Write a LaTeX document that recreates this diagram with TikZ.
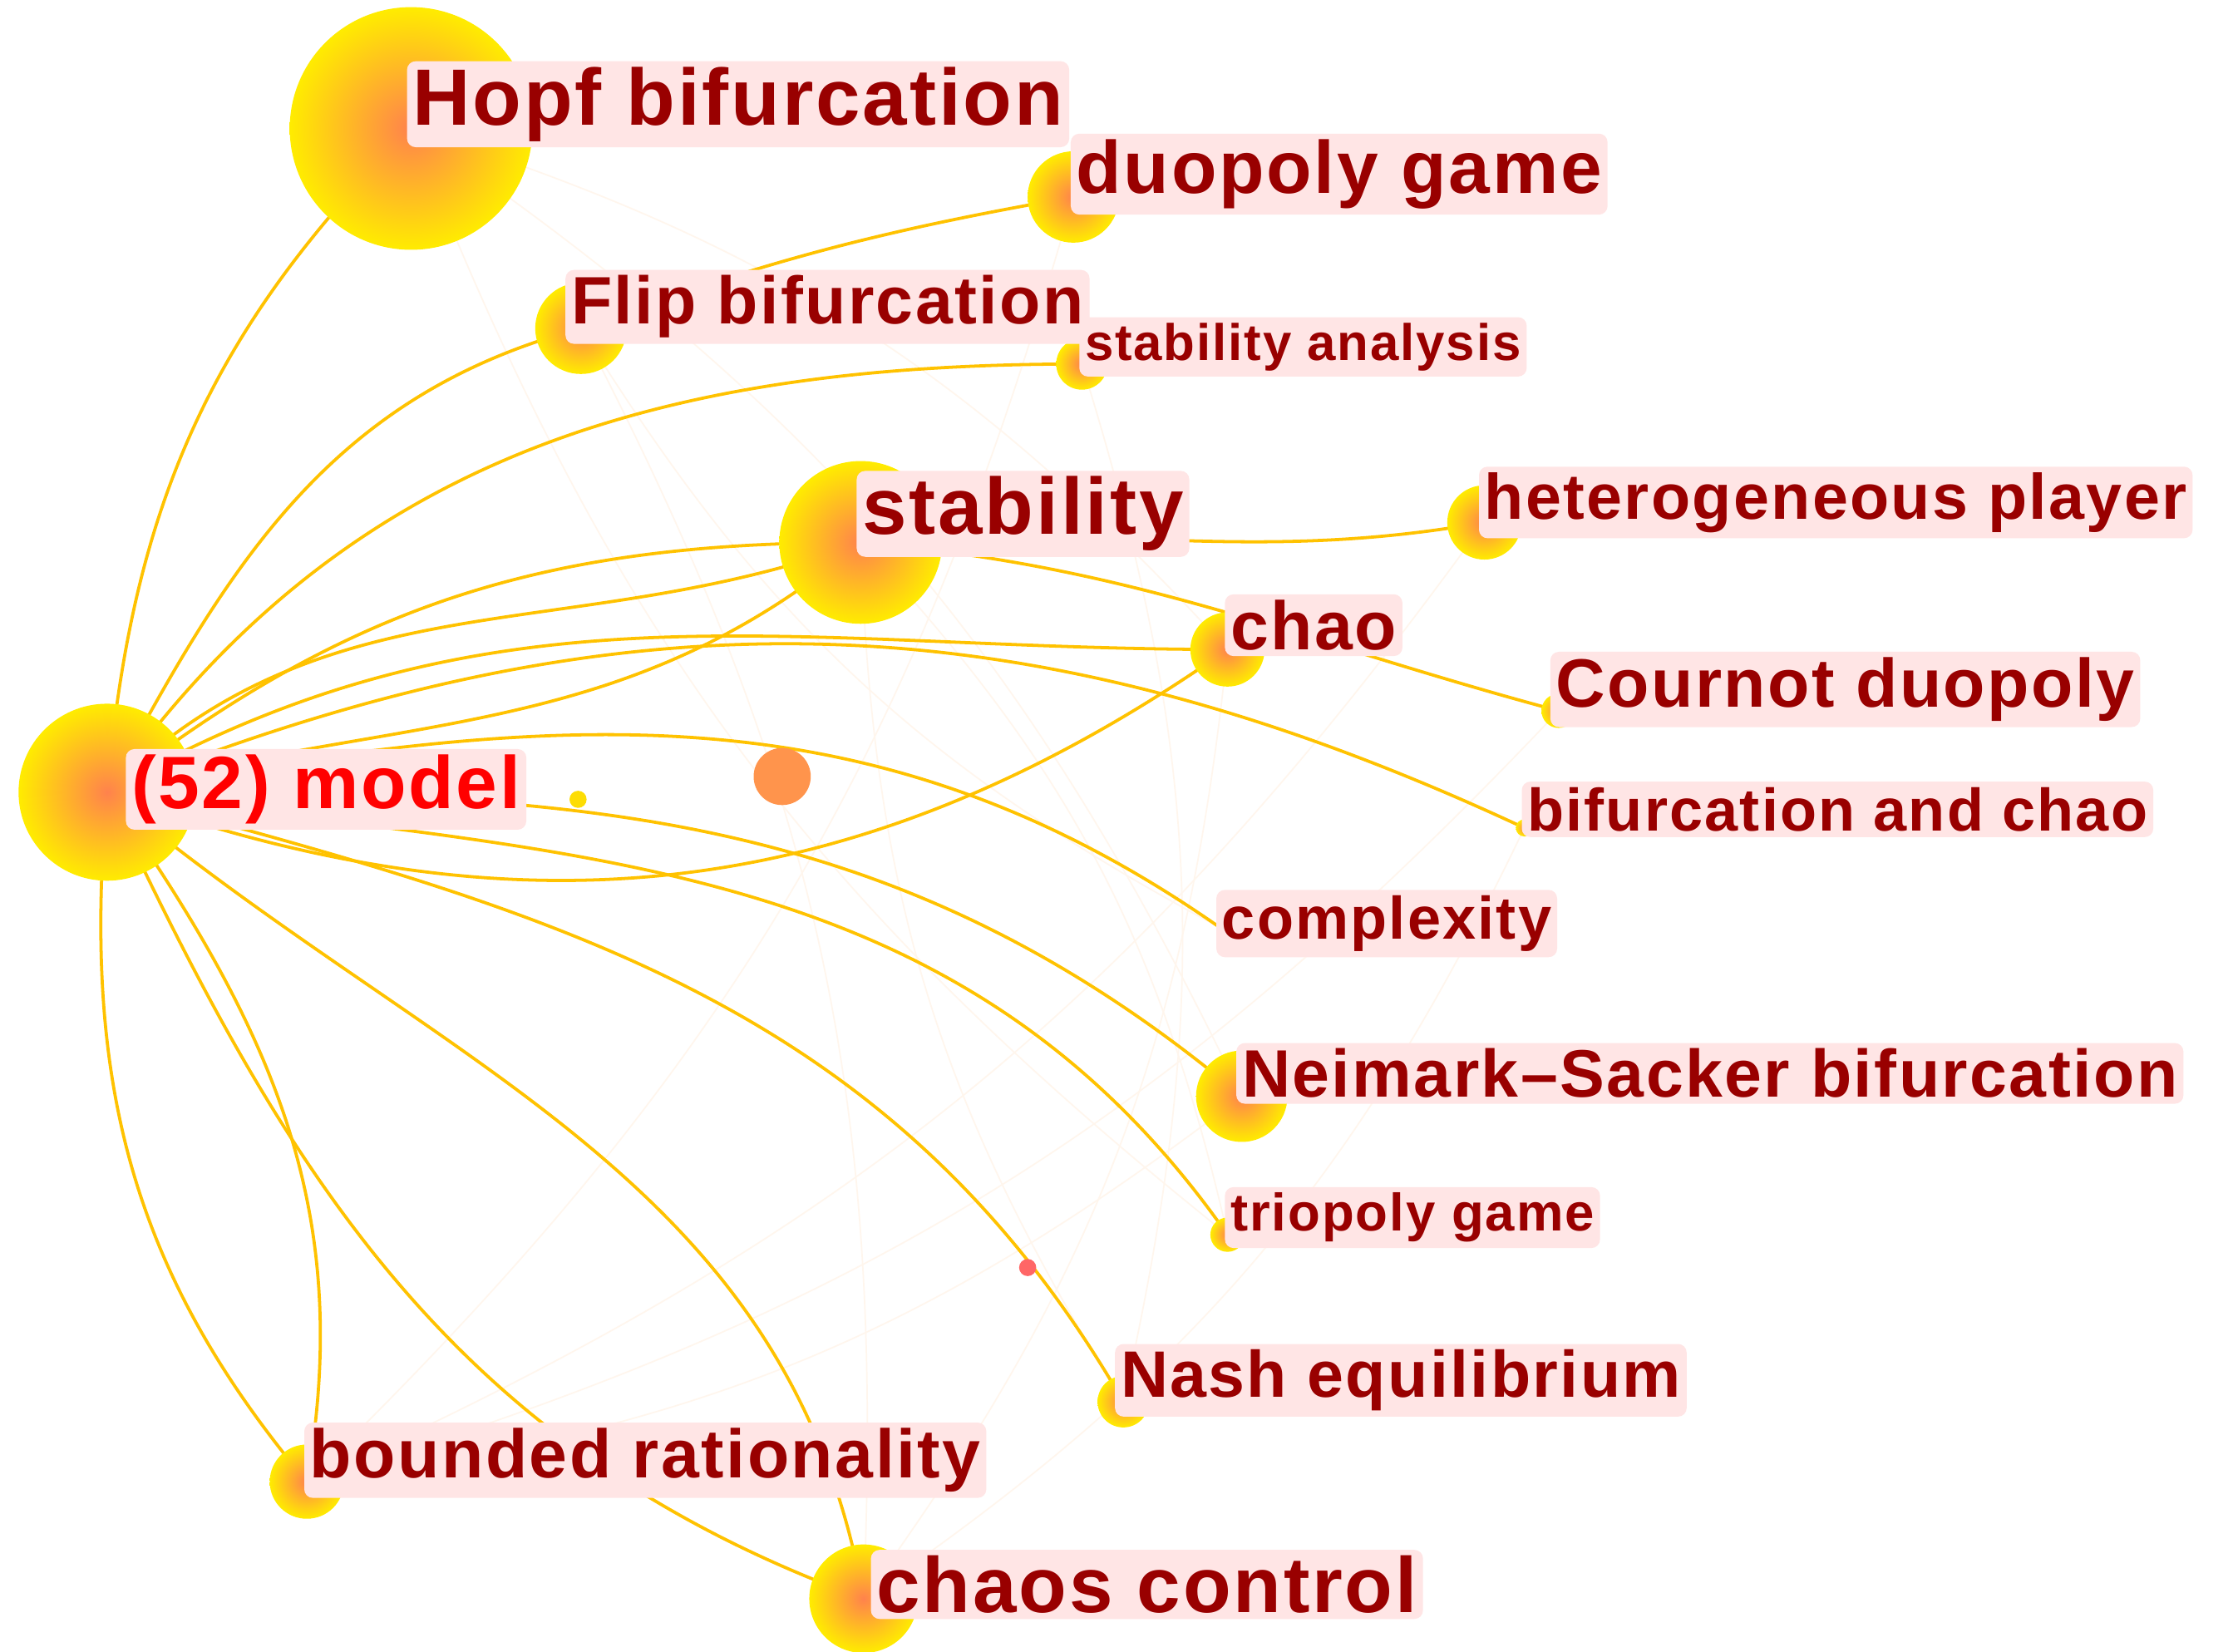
\documentclass[tikz,border=0pt]{standalone}
\usepackage{fontspec}
\setmainfont{Liberation Sans}
\newcommand\labfont[1]{\bfseries\fontsize{#1}{#1}\selectfont\addfontfeature{LetterSpace=3}}
\begin{document}
\begin{tikzpicture}[x=1pt,y=-1pt,
 lab/.style={anchor=west,fill=red!10,rounded corners=6pt,inner sep=4pt,text=red!60!black,font=\bfseries},
 ed/.style={draw=orange!40!yellow!95!red,line width=2.2pt},
 fe/.style={draw=orange!7,line width=1pt},
 blob/.style={circle,inner sep=0pt,shading=radial,inner color=orange!60!red!70,outer color=yellow!85!orange}]
\useasboundingbox (0,0) rectangle (1568,1157);
\fill[white] (0,0) rectangle (1568,1157);
% coordinates
\coordinate (m) at (75,555);
\coordinate (hopf) at (288,90);
\coordinate (duo) at (752,138);
\coordinate (flip) at (407,230);
\coordinate (sa) at (758,255);
\coordinate (st) at (603,380);
\coordinate (het) at (1040,366);
\coordinate (chao) at (860,455);
\coordinate (cour) at (1092,498);
\coordinate (bac) at (1068,580);
\coordinate (comp) at (855,650);
\coordinate (nei) at (870,768);
\coordinate (tri) at (860,865);
\coordinate (nash) at (787,982);
\coordinate (bound) at (215,1038);
\coordinate (cc) at (605,1120);
% faint background edges
\foreach \a/\b in {hopf/chao,hopf/nei,duo/bound,flip/cc,sa/nash,st/tri,het/bound,chao/cc,cour/bound,nei/bound,tri/hopf,comp/flip,nash/st,bac/cc}
  \draw[fe] (\a) to[bend left=15] (\b);
% edges
\draw[ed] (m) to[out=85,in=225] (hopf);
\draw[ed] (m) to[out=62,in=195] (flip);
\draw[ed] (flip) to[out=20,in=190] (duo);
\draw[ed] (m) to[out=55,in=180] (sa);
\draw[ed] (m) to[out=45,in=200] (st);
\draw[ed] (m) to[out=38,in=180] (st);
\draw[ed] (st) to[out=5,in=190] (het);
\draw[ed] (m) to[out=30,in=180] (chao);
\draw[ed] (st) to[out=-5,in=165] (cour);
\draw[ed] (m) to[out=22,in=155] (bac);
\draw[ed] (m) to[out=-20,in=215] (chao);
\draw[ed] (m) to[out=10,in=145] (comp);
\draw[ed] (m) to[out=0,in=140] (nei);
\draw[ed] (m) to[out=-8,in=125] (tri);
\draw[ed] (m) to[out=-15,in=120] (nash);
\draw[ed] (m) to[out=-55,in=80] (bound);
\draw[ed] (m) to[out=-95,in=130] (bound);
\draw[ed] (m) to[out=-40,in=100] (cc);
\draw[ed] (m) to[out=-65,in=160] (cc);
\draw[ed] (m) to[out=15,in=220] (st);
% blobs
\node[blob,minimum size=170] at (hopf) {};
\node[blob,minimum size=64] at (duo) {};
\node[blob,minimum size=64] at (flip) {};
\node[blob,minimum size=36] at (sa) {};
\node[blob,minimum size=114] at (st) {};
\node[blob,minimum size=52] at (het) {};
\node[blob,minimum size=52] at (chao) {};
\node[blob,minimum size=24] at (cour) {};
\node[blob,minimum size=12] at (bac) {};
\node[blob,minimum size=64] at (nei) {};
\node[blob,minimum size=24] at (tri) {};
\node[blob,minimum size=36] at (nash) {};
\node[blob,minimum size=52] at (bound) {};
\node[blob,minimum size=76] at (cc) {};
\node[blob,minimum size=124] at (m) {};
\node[circle,fill=orange!80!red!70,minimum size=40,inner sep=0] (x1) at (548,544) {};
\node[circle,fill=red!60,minimum size=12,inner sep=0] (x2) at (720,888) {};
\node[circle,fill=yellow!80!orange,minimum size=12,inner sep=0] (x3) at (405,560) {};
% labels
\node[lab,font=\labfont{56}] (lhopf) at (285,73) {Hopf bifurcation};
\node[lab,font=\labfont{52}] (lduo) at (750,122) {duopoly game};
\node[lab,font=\labfont{47}] (lflip) at (396,215) {Flip bifurcation};
\node[lab,font=\labfont{36}] (lsa) at (756,243) {stability analysis};
\node[lab,font=\labfont{56}] (lst) at (600,360) {stability};
\node[lab,font=\labfont{45}] (lhet) at (1036,352) {heterogeneous player};
\node[lab,font=\labfont{48}] (lchao) at (858,438) {chao};
\node[lab,font=\labfont{48}] (lcour) at (1086,483) {Cournot duopoly};
\node[lab,font=\labfont{42}] (lbac) at (1066,567) {bifurcation and chao};
\node[lab,font=\labfont{42}] (lcomp) at (852,647) {complexity};
\node[lab,font=\labfont{47}] (lnei) at (866,752) {Neimark--Sacker bifurcation};
\node[lab,font=\labfont{37}] (ltri) at (858,853) {triopoly game};
\node[lab,font=\labfont{46}] (lnash) at (781,967) {Nash equilibrium};
\node[lab,font=\labfont{48}] (lbound) at (213,1023) {bounded rationality};
\node[lab,font=\labfont{55}] (lcc) at (610,1110) {chaos control};
\node[lab,text=red,font=\labfont{52}] (lm) at (88,553) {(52) model};
\end{tikzpicture}
\end{document}
